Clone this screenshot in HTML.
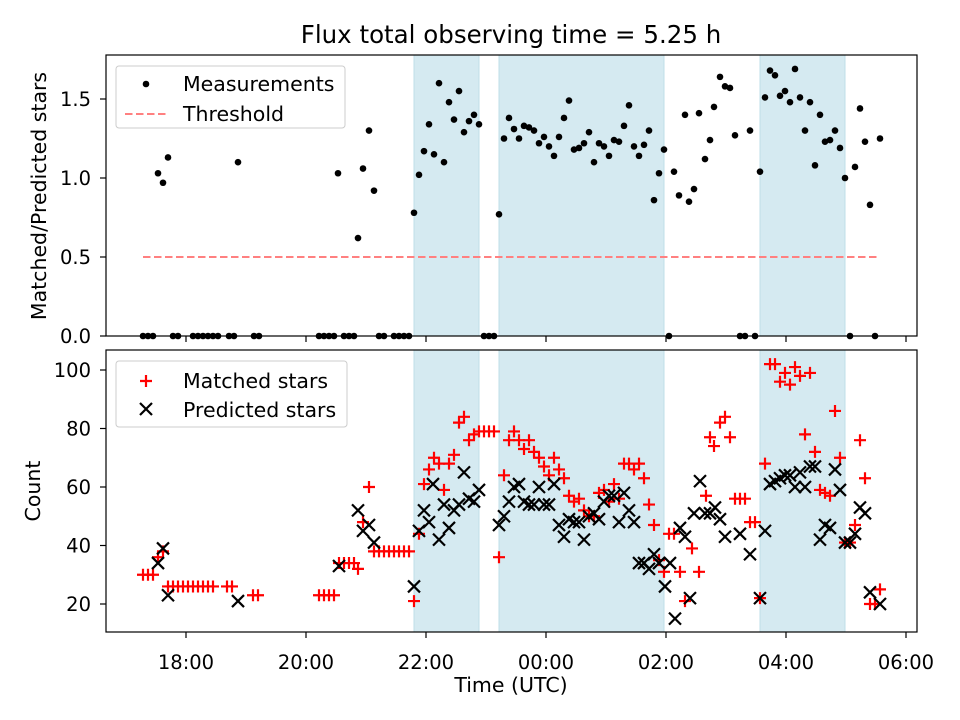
<!DOCTYPE html>
<html><head><meta charset="utf-8"><style>
body{margin:0;background:#fff}
svg{display:block;font-family:"DejaVu Sans","Liberation Sans",sans-serif}
</style></head><body>
<svg id="chart" width="960" height="720" xmlns="http://www.w3.org/2000/svg"></svg>
<script>
// times are minutes after 18:00 UTC
const ratioTimes=[-43,-38,-33,-28,-23,-18,-13,-8,7,12,17,22,27,32,43,48,52,68,73,133,138,143,148,152,158,163,168,172,177,183,188,193,198,208,213,218,223,228,233,238,243,248,253,258,263,268,273,278,283,288,293,298,303,308,313,318,323,328,333,338,343,348,353,358,363,368,373,378,383,388,393,398,403,408,413,418,423,428,433,438,443,448,453,458,463,468,473,478,483,488,493,499,503,508,513,519,524,528,534,539,544,549,554,559,564,569,574,579,584,589,594,599,604,609,614,619,624,629,634,639,644,649,654,659,664,669,674,679,684,689,694];
const ratioValues=[0,0,0,1.03,0.97,1.13,0,0,0,0,0,0,0,0,0,0,1.10,0,0,0,0,0,0,1.03,0,0,0,0.62,1.06,1.30,0.92,0,0,0,0,0,0,0.78,1.02,1.17,1.34,1.15,1.60,1.10,1.48,1.37,1.55,1.29,1.36,1.40,1.34,0,0,0,0.77,1.25,1.38,1.31,1.25,1.33,1.32,1.30,1.22,1.26,1.20,1.14,1.26,1.38,1.49,1.18,1.19,1.22,1.29,1.10,1.22,1.20,1.14,1.24,1.23,1.33,1.46,1.20,1.14,1.21,1.30,0.86,1.03,1.18,0,1.04,0.89,1.40,0.85,0.93,1.41,1.12,1.24,1.45,1.64,1.58,1.57,1.27,0,0,1.30,0,1.04,1.51,1.68,1.65,1.52,1.55,1.48,1.69,1.51,1.30,1.48,1.08,1.40,1.23,1.24,1.30,1.19,1.00,0,1.07,1.44,1.23,0.83,0,1.25];
const matchedTimes=[-43,-38,-33,-28,-23,-18,-13,-8,-3,2,7,12,17,22,27,41,46,67,72,133,138,143,148,153,158,163,168,172,177,183,188,193,198,203,208,213,218,223,228,233,238,243,248,253,258,263,268,273,278,283,288,293,298,303,308,313,318,323,328,333,338,343,348,353,358,363,368,373,378,383,388,393,398,403,408,413,418,423,428,433,438,443,448,453,458,463,468,473,478,483,488,494,499,506,513,520,524,528,534,539,544,549,554,559,564,569,574,579,584,589,594,599,604,609,614,619,624,629,634,639,644,649,654,659,664,669,674,679,684,689,694];
const matchedValues=[30,30,30,36,38,26,26,26,26,26,26,26,26,26,26,26,26,23,23,23,23,23,23,34,34,34,34,32,48,60,38,38,38,38,38,38,38,38,21,44,61,66,70,68,59,68,71,82,84,76,78,79,79,79,79,36,64,76,79,76,73,76,72,70,67,64,70,66,63,57,55,56,52,50,50,58,59,55,61,56,68,68,66,68,63,54,47,35,31,44,44,31,21,39,31,57,77,74,82,84,77,56,56,56,48,48,22,68,102,102,96,99,95,101,98,78,99,72,59,58,57,86,70,41,41,47,76,63,20,20,25];
const predictedTimes=[-28,-23,-18,52,153,172,177,183,188,228,233,238,243,247,253,258,263,268,273,278,283,288,293,313,318,323,328,333,338,343,348,353,358,363,368,373,378,383,388,393,398,403,408,413,418,423,428,433,438,443,448,453,458,463,468,473,479,484,489,494,499,504,508,514,519,524,529,534,539,554,564,574,579,584,589,594,599,604,609,614,619,624,629,634,639,644,649,654,659,664,669,674,679,684,694];
const predictedValues=[34,39,23,21,33,52,45,47,41,26,45,52,48,61,42,54,46,52,54,65,56,55,59,47,50,55,60,61,55,54,54,60,54,54,61,47,43,49,48,48,42,50,51,49,55,57,57,48,58,52,48,34,34,32,37,34,26,34,15,46,43,22,51,62,51,51,53,49,43,44,37,22,45,61,62,63,64,64,60,65,60,67,67,42,47,46,66,59,41,41,44,53,51,24,20];
const spanStarts=[228,313,574];
const spanEnds=[293,478,659];
const xTickMinutes=[0,120,240,360,480,600,720];
const xTickLabels=["18:00","20:00","22:00","00:00","02:00","04:00","06:00"];
const topTicks=[0,0.5,1.0,1.5];
const botTicks=[20,40,60,80,100];
const threshold=0.5, thrStart=-43, thrEnd=694;

const NS="http://www.w3.org/2000/svg";
const svg=document.getElementById('chart');
function mk(tag,attrs,parent){const e=document.createElementNS(NS,tag);for(const k in attrs)e.setAttribute(k,attrs[k]);(parent||svg).appendChild(e);return e;}
const L=106,R=917;
const xs=m=>186+m*1.0;
const yTop=v=>336-v*158;
const yBot=v=>604-(v-20)*2.925;
const T1=55,B1=336,T2=350,B2=632;
const TF=19.5;

function spans(top,bot){
  for(let i=0;i<spanStarts.length;i++){
    const r=mk('rect',{x:xs(spanStarts[i]),y:top,width:xs(spanEnds[i])-xs(spanStarts[i]),height:bot-top,fill:'#d5eaf1',stroke:'#bfdfe8','stroke-width':1});
    
    
  }
}
function frame(top,bot,name){
  const r=mk('rect',{x:L,y:top,width:R-L,height:bot-top,fill:'none',stroke:'#000','stroke-width':1.2});
  
  
}
function xticks(bot,labels){
  xTickMinutes.forEach((m,i)=>{
    mk('line',{x1:xs(m),x2:xs(m),y1:bot,y2:bot+6,stroke:'#000','stroke-width':1.2});
    if(labels){const t=mk('text',{x:xs(m),y:bot+37,'text-anchor':'middle','font-size':TF});t.textContent=xTickLabels[i];
    
    }
  });
}
function yticks(ticks,fy,fmt){
  ticks.forEach(v=>{
    mk('line',{x1:L-6,x2:L,y1:fy(v),y2:fy(v),stroke:'#000','stroke-width':1.2});
    const t=mk('text',{x:L-15,y:fy(v)+7,'text-anchor':'end','font-size':TF});t.textContent=fmt(v);
    
    
  });
}
// top panel
spans(T1,B1);
const th=mk('line',{x1:xs(thrStart),x2:xs(thrEnd),y1:yTop(threshold),y2:yTop(threshold),stroke:'#ff8080','stroke-width':2,'stroke-dasharray':'7.5,3.5'});


ratioTimes.forEach((m,i)=>{
  const c=mk('circle',{cx:xs(m),cy:yTop(ratioValues[i]),r:3.3,fill:'#000'});
  
  
});
frame(T1,B1,'top-axes');
xticks(B1,false);
yticks(topTicks,yTop,v=>v.toFixed(1));
// bottom panel
spans(T2,B2);
matchedTimes.forEach((m,i)=>{
  const x=xs(m),y=yBot(matchedValues[i]);
  const p=mk('path',{d:`M${x-6},${y}H${x+6}M${x},${y-6}V${y+6}`,stroke:'#ff0000','stroke-width':2.2});
  
  
});
predictedTimes.forEach((m,i)=>{
  const x=xs(m),y=yBot(predictedValues[i]);
  const p=mk('path',{d:`M${x-6},${y-6}L${x+6},${y+6}M${x-6},${y+6}L${x+6},${y-6}`,stroke:'#000','stroke-width':2.2});
  
  
});
frame(T2,B2,'bottom-axes');
xticks(B2,true);
yticks(botTicks,yBot,v=>String(v));
</script>
<svg width="960" height="720" style="position:absolute;left:0;top:0">
<text x="511" y="43" text-anchor="middle" font-size="24.5">Flux total observing time = 5.25 h</text>
<text transform="translate(46,196) rotate(-90)" text-anchor="middle" font-size="20.5">Matched/Predicted stars</text>
<text transform="translate(40,491) rotate(-90)" text-anchor="middle" font-size="20.5">Count</text>
<text x="511" y="692" text-anchor="middle" font-size="20.5">Time (UTC)</text>
<g>
<rect x="116" y="66" width="229" height="62" rx="3" fill="#fff" fill-opacity="0.8" stroke="#ccc"/>
<circle cx="146" cy="84" r="3.3" fill="#000"/>
<text x="183" y="91" font-size="20.5">Measurements</text>
<line x1="125" x2="167" y1="114" y2="114" stroke="#ff8080" stroke-width="2" stroke-dasharray="7.5,3.5"/>
<text x="183" y="121" font-size="20.5">Threshold</text>
</g>
<g>
<rect x="116" y="361" width="231" height="66" rx="3" fill="#fff" fill-opacity="0.8" stroke="#ccc"/>
<path d="M140,381H152M146,375V387" stroke="#f00" stroke-width="2.2"/>
<text x="183" y="388" font-size="20.5">Matched stars</text>
<path d="M140,403L152,415M140,415L152,403" stroke="#000" stroke-width="2.2"/>
<text x="183" y="417" font-size="20.5">Predicted stars</text>
</g>
</svg>
</body></html>
